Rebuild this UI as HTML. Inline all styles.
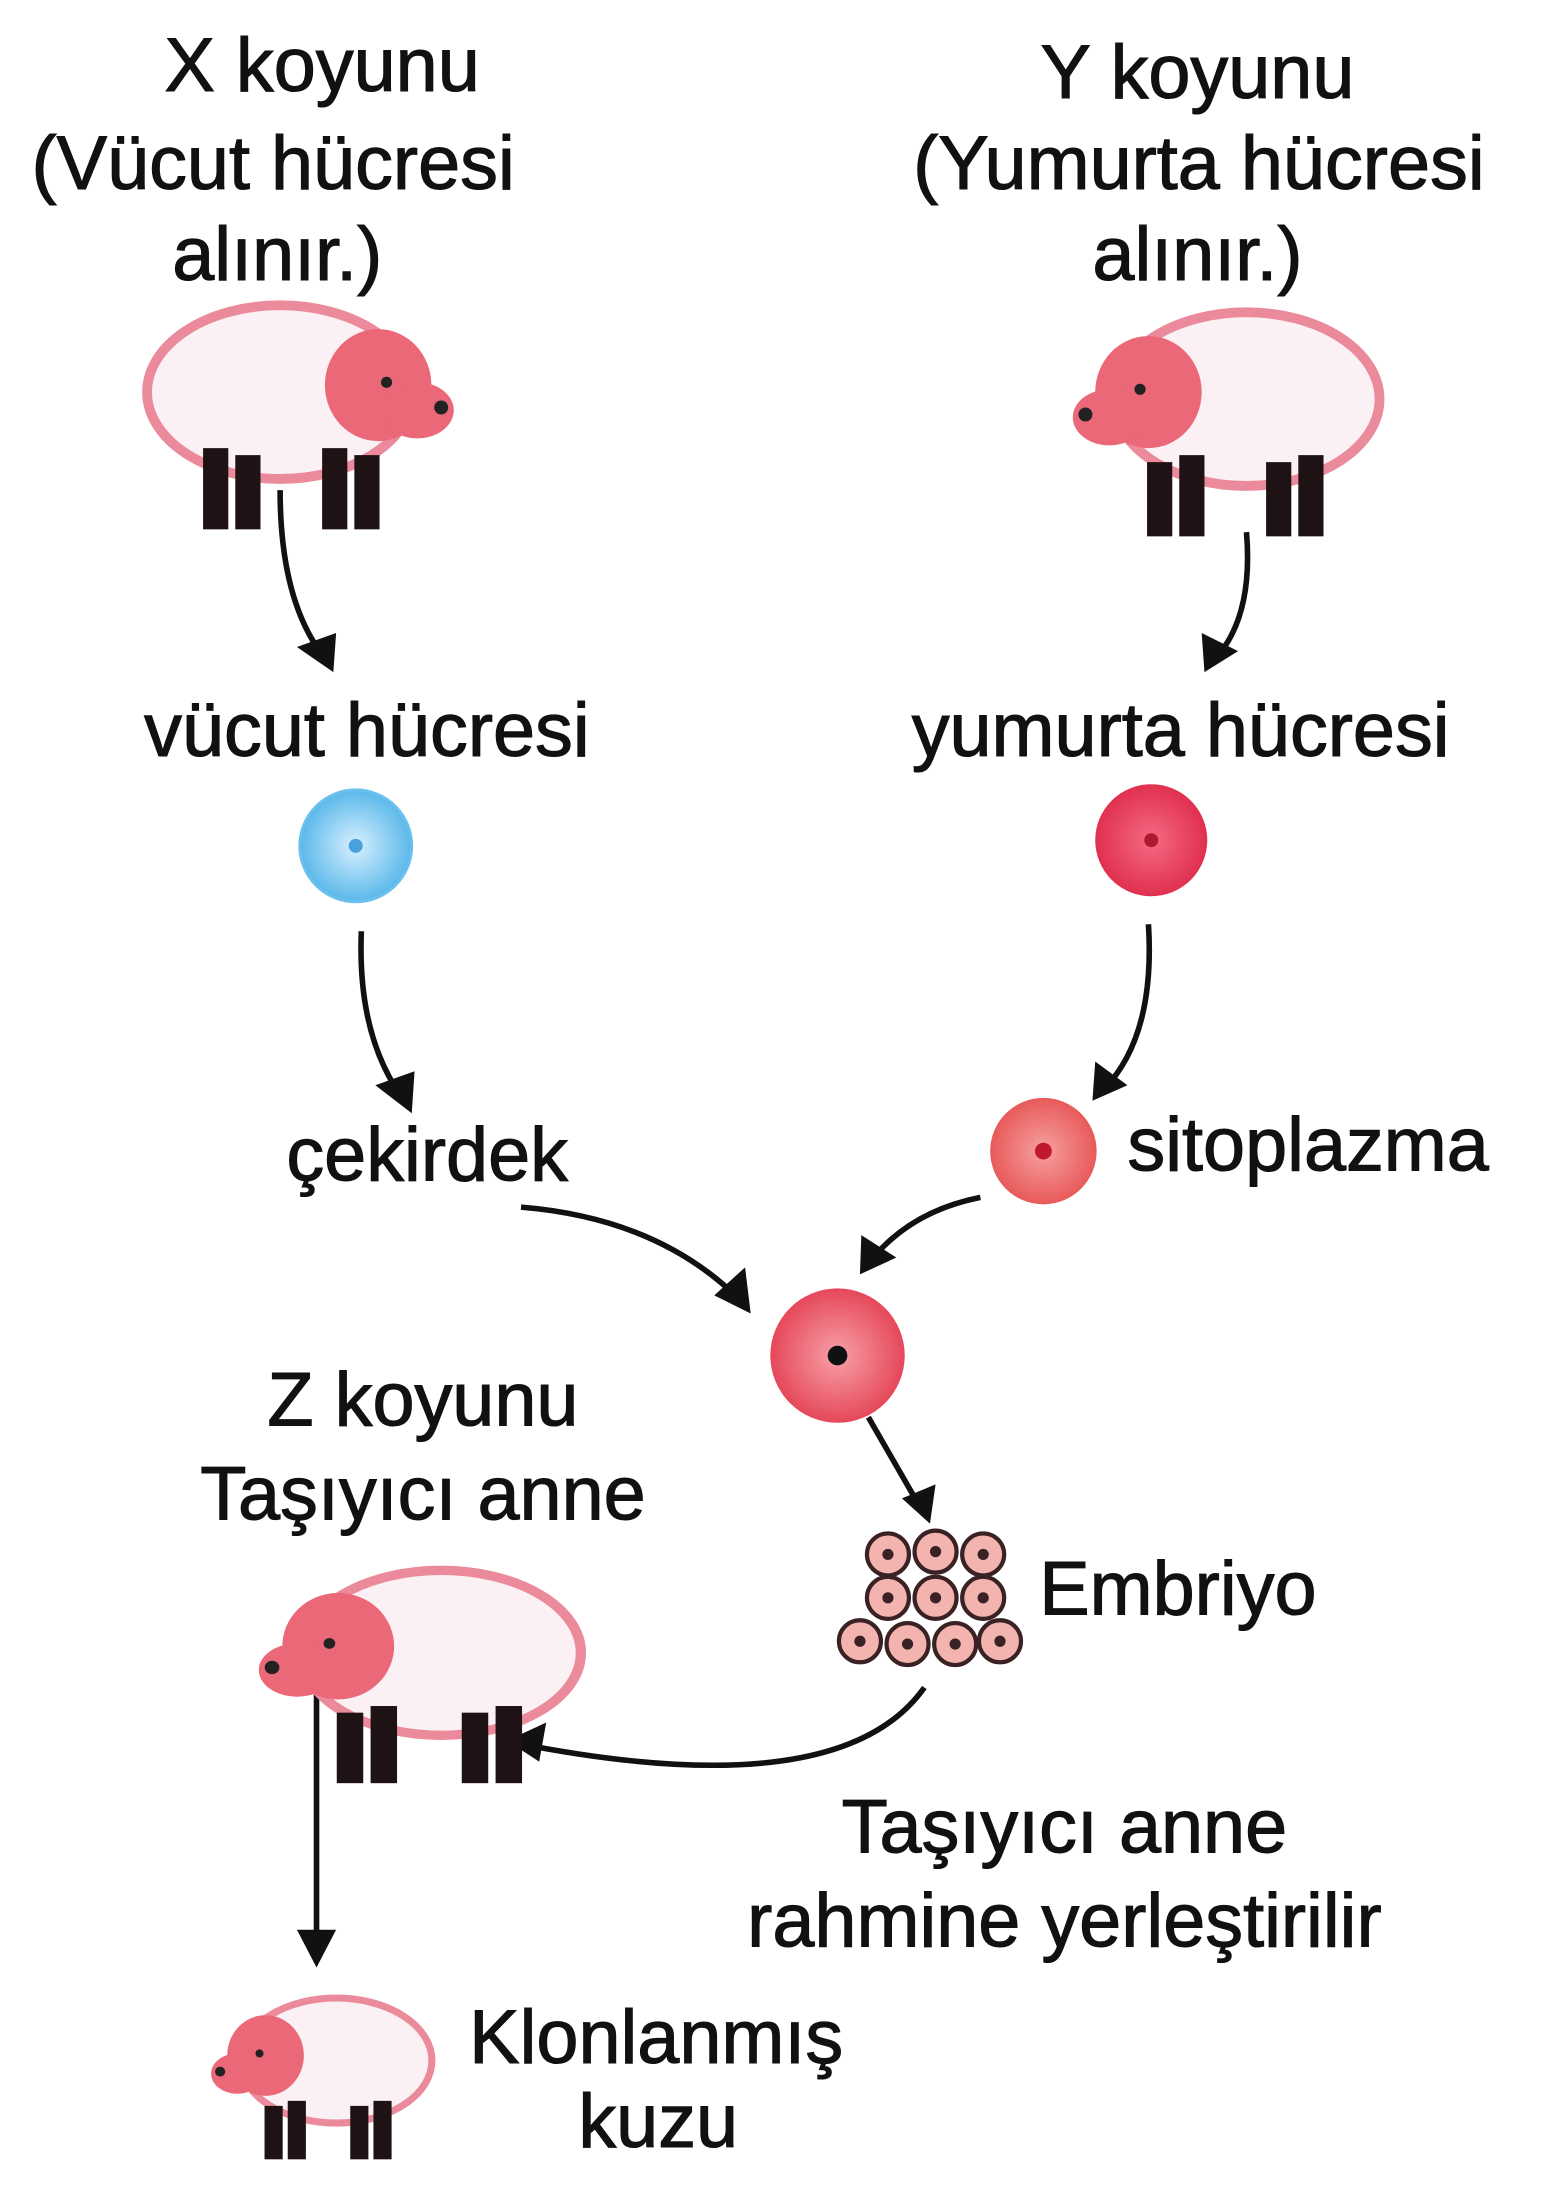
<!DOCTYPE html>
<html><head><meta charset="utf-8"><style>
html,body{margin:0;padding:0;background:#fff;}
svg{display:block;}
text{font-family:"Liberation Sans",sans-serif;font-size:54px;fill:#111;stroke:#111;stroke-width:0.8px;}
</style></head><body>
<svg width="1549" height="2193" viewBox="0 0 1106 1566" preserveAspectRatio="none" xmlns="http://www.w3.org/2000/svg">
<defs>
<radialGradient id="blue" cx="50%" cy="50%" r="50%"><stop offset="0" stop-color="#d8f0ff"/><stop offset="1" stop-color="#5ab8ea"/></radialGradient>
<radialGradient id="pink" cx="50%" cy="50%" r="50%"><stop offset="0" stop-color="#f56a84"/><stop offset="1" stop-color="#e0304f"/></radialGradient>
<radialGradient id="sito" cx="50%" cy="50%" r="50%"><stop offset="0" stop-color="#f7a0a0"/><stop offset="1" stop-color="#e85a5a"/></radialGradient>
<radialGradient id="big" cx="50%" cy="50%" r="50%"><stop offset="0" stop-color="#f8a0a8"/><stop offset="1" stop-color="#e5485a"/></radialGradient>
<g id="sheepR">
<ellipse cx="0" cy="-5" rx="95" ry="62" fill="#fbf0f3" stroke="#eb8a9a" stroke-width="7"/>
<rect x="-55" y="35" width="18" height="58" fill="#1e1214"/>
<rect x="-32" y="40" width="18" height="53" fill="#1e1214"/>
<rect x="30" y="35" width="18" height="58" fill="#1e1214"/>
<rect x="53" y="40" width="18" height="53" fill="#1e1214"/>
<ellipse cx="70" cy="-10" rx="38" ry="40" fill="#ea6878"/>
<ellipse cx="98" cy="8" rx="26" ry="20" fill="#ea6878"/>
<circle cx="115" cy="6" r="5" fill="#222"/>
<circle cx="76" cy="-12" r="4" fill="#222"/>
</g>
</defs>

<text x="230" y="65" text-anchor="middle">X koyunu</text>
<text x="195" y="135" text-anchor="middle">(Vücut hücresi</text>
<text x="198" y="200" text-anchor="middle">alınır.)</text>
<text x="855" y="70" text-anchor="middle">Y koyunu</text>
<text x="856" y="135" text-anchor="middle">(Yumurta hücresi</text>
<text x="855" y="200" text-anchor="middle">alınır.)</text>

<use href="#sheepR" transform="translate(200,285)"/>
<use href="#sheepR" transform="translate(890,290) scale(-1,1)"/>

<g fill="none" stroke="#111" stroke-width="4">
<path d="M200 350 Q200 430 232 470"/>
<path d="M890 380 Q895 440 868 470"/>
<path d="M258 665 Q255 740 288 785"/>
<path d="M820 660 Q825 740 788 778"/>
<path d="M372 862 Q470 870 528 928"/>
<path d="M700 855 Q650 865 622 900"/>
<path d="M620 1012 L658 1078"/>
<path d="M660 1205 Q600 1290 370 1245"/>
<path d="M226 1210 L226 1398"/>
</g>
<g fill="#111">
<polygon points="238,480 212,462 240,452"/>
<polygon points="860,480 858,452 884,465"/>
<polygon points="294,795 268,775 296,765"/>
<polygon points="780,786 782,758 805,775"/>
<polygon points="536,938 510,925 532,905"/>
<polygon points="614,910 615,882 640,898"/>
<polygon points="664,1088 644,1070 668,1060"/>
<polygon points="362,1243 390,1230 385,1258"/>
<polygon points="226,1405 212,1378 240,1378"/>
</g>

<text x="262" y="540" text-anchor="middle">vücut hücresi</text>
<text x="843" y="540" text-anchor="middle">yumurta hücresi</text>
<circle cx="254" cy="604" r="40" fill="url(#blue)" stroke="#6cc0ee" stroke-width="2"/>
<circle cx="254" cy="604" r="5" fill="#4aa0d8"/>
<circle cx="822" cy="600" r="40" fill="url(#pink)"/>
<circle cx="822" cy="600" r="5" fill="#b01830"/>

<text x="305" y="843" text-anchor="middle">çekirdek</text>
<circle cx="745" cy="822" r="38" fill="url(#sito)"/>
<circle cx="745" cy="822" r="6" fill="#c0182c"/>
<text x="805" y="836">sitoplazma</text>

<circle cx="598" cy="968" r="48" fill="url(#big)"/>
<circle cx="598" cy="968" r="7" fill="#111"/>

<g fill="#f3b4b0" stroke="#3a2224" stroke-width="3">
<circle cx="634" cy="1110" r="15"/><circle cx="668" cy="1108" r="15"/><circle cx="702" cy="1110" r="15"/>
<circle cx="634" cy="1141" r="15"/><circle cx="668" cy="1141" r="15"/><circle cx="702" cy="1141" r="15"/>
<circle cx="614" cy="1172" r="15"/><circle cx="648" cy="1174" r="15"/><circle cx="682" cy="1174" r="15"/><circle cx="714" cy="1172" r="15"/>
</g>
<g fill="#3a2224">
<circle cx="634" cy="1110" r="4"/><circle cx="668" cy="1108" r="4"/><circle cx="702" cy="1110" r="4"/>
<circle cx="634" cy="1141" r="4"/><circle cx="668" cy="1141" r="4"/><circle cx="702" cy="1141" r="4"/>
<circle cx="614" cy="1172" r="4"/><circle cx="648" cy="1174" r="4"/><circle cx="682" cy="1174" r="4"/><circle cx="714" cy="1172" r="4"/>
</g>
<text x="742" y="1153">Embriyo</text>

<text x="302" y="1018" text-anchor="middle">Z koyunu</text>
<text x="302" y="1085" text-anchor="middle">Taşıyıcı anne</text>
<use href="#sheepR" transform="translate(315,1185) scale(-1.05,0.95)"/>

<text x="760" y="1323" text-anchor="middle">Taşıyıcı anne</text>
<text x="760" y="1390" text-anchor="middle">rahmine yerleştirilir</text>

<use href="#sheepR" transform="translate(240,1475) scale(-0.72,0.72)"/>
<text x="335" y="1473">Klonlanmış</text>
<text x="470" y="1533" text-anchor="middle">kuzu</text>
</svg>
</body></html>
